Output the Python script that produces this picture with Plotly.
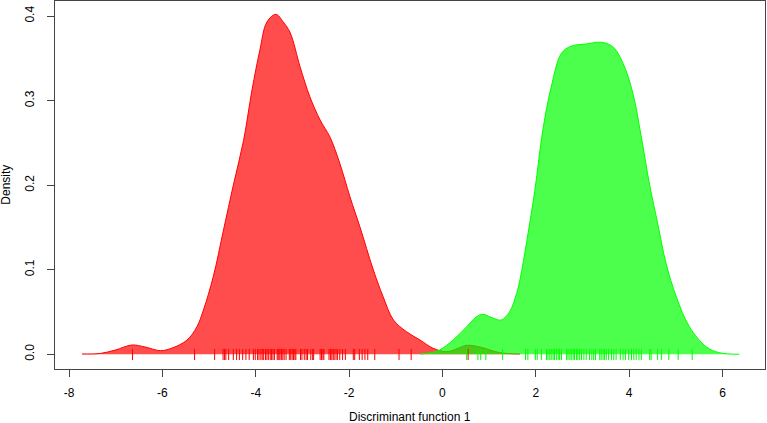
import plotly.graph_objects as go

# Density curve of group 1 (red)
red_x = [-7.72, -7.33, -7.01, -6.65, -6.37, -6.04, -5.79, -5.47, -5.26, -5.12, -4.91, -4.69,
         -4.48, -4.26, -4.08, -3.91, -3.76, -3.57, -3.41, -3.26, -3.05, -2.84, -2.62, -2.41,
         -2.20, -1.98, -1.77, -1.48, -1.27, -1.05, -0.77, -0.48, -0.20, 0.09, 0.33, 0.52,
         0.80, 1.23, 1.66]
red_y = [0.0004, 0.001, 0.005, 0.011, 0.0086, 0.0043, 0.0074, 0.0169, 0.0326, 0.0524, 0.0917, 0.147,
         0.200, 0.253, 0.3125, 0.360, 0.393, 0.402, 0.393, 0.380, 0.340, 0.3046, 0.277, 0.257,
         0.226, 0.186, 0.151, 0.0997, 0.068, 0.0406, 0.0267, 0.0169, 0.0071, 0.0031, 0.0069, 0.0106,
         0.0086, 0.0019, 0.0004]

# Density curve of group 2 (green)
green_x = [-0.48, -0.27, -0.06, 0.23, 0.52, 0.73, 0.87, 1.09, 1.26, 1.44, 1.59, 1.66, 1.81,
           1.98, 2.15, 2.33, 2.55, 2.76, 3.08, 3.40, 3.65, 3.87, 4.08, 4.26, 4.44, 4.61,
           4.79, 5.01, 5.29, 5.65, 5.93, 6.36]
green_y = [0.0004, 0.0015, 0.005, 0.0169, 0.0326, 0.0445, 0.0473, 0.0426, 0.0406, 0.0504, 0.0721, 0.0878, 0.135,
           0.194, 0.265, 0.316, 0.356, 0.3645, 0.367, 0.369, 0.3637, 0.344, 0.3086, 0.257, 0.200, 0.155,
           0.1076, 0.068, 0.0326, 0.009, 0.0019, 0.0]

# Rug values (individual scores)
red_rug = [-6.64, -5.31, -4.88, -4.70, -4.67, -4.64, -4.58, -4.48, -4.41, -4.35, -4.28, -4.21,
           -4.14, -4.05, -4.01, -3.96, -3.93, -3.89, -3.86, -3.83, -3.79, -3.76, -3.73, -3.69,
           -3.66, -3.63, -3.60, -3.54, -3.52, -3.50, -3.48, -3.45, -3.42, -3.39, -3.35, -3.28,
           -3.25, -3.22, -3.19, -3.16, -3.14, -3.04, -3.01, -2.96, -2.92, -2.89, -2.82, -2.78,
           -2.76, -2.62, -2.59, -2.56, -2.54, -2.43, -2.40, -2.37, -2.34, -2.32, -2.28, -2.25,
           -2.20, -2.14, -2.08, -1.91, -1.88, -1.78, -1.72, -1.66, -1.60, -1.45, -0.93, -0.67, 0.55]
green_rug = [0.52, 0.76, 0.82, 0.93, 1.29, 1.78, 1.83, 1.99, 2.03, 2.12, 2.23, 2.26, 2.30, 2.33,
             2.37, 2.40, 2.44, 2.48, 2.51, 2.55, 2.66, 2.69, 2.73, 2.76, 2.80, 2.83, 2.87, 2.90,
             2.94, 2.98, 3.03, 3.08, 3.15, 3.20, 3.24, 3.28, 3.37, 3.40, 3.44, 3.47, 3.51, 3.56,
             3.62, 3.67, 3.72, 3.81, 3.87, 3.92, 3.99, 4.05, 4.10, 4.15, 4.21, 4.26, 4.44, 4.47,
             4.61, 4.69, 4.85, 5.05, 5.35]

x_ticks = [-8, -6, -4, -2, 0, 2, 4, 6]
x_tick_labels = ["-8", "-6", "-4", "-2", "0", "2", "4", "6"]
y_ticks = [0.0, 0.1, 0.2, 0.3, 0.4]
y_tick_labels = ["0.0", "0.1", "0.2", "0.3", "0.4"]

RUG_LO, RUG_HI = -0.0068, 0.0063


def rug_xy(vals):
    xs, ys = [], []
    for v in vals:
        xs += [v, v, None]
        ys += [RUG_LO, RUG_HI, None]
    return xs, ys


fig = go.Figure()
fig.add_trace(go.Scatter(x=red_x, y=red_y, mode="lines", line=dict(color="rgb(255,0,0)", width=1, shape="spline"),
                         fill="tozeroy", fillcolor="rgba(255,0,0,0.7)", hoverinfo="skip", showlegend=False))
fig.add_trace(go.Scatter(x=green_x, y=green_y, mode="lines", line=dict(color="rgb(0,255,0)", width=1, shape="spline"),
                         fill="tozeroy", fillcolor="rgba(0,255,0,0.7)", hoverinfo="skip", showlegend=False))
rx, ry = rug_xy(red_rug)
fig.add_trace(go.Scatter(x=rx, y=ry, mode="lines", line=dict(color="rgb(255,0,0)", width=1),
                         hoverinfo="skip", showlegend=False))
gx, gy = rug_xy(green_rug)
fig.add_trace(go.Scatter(x=gx, y=gy, mode="lines", line=dict(color="rgb(0,255,0)", width=1),
                         hoverinfo="skip", showlegend=False))

font = dict(family="Liberation Sans, Arial, sans-serif", size=12, color="black")

fig.update_layout(
    width=767, height=423,
    margin=dict(l=55, r=2, t=1, b=54),
    paper_bgcolor="white", plot_bgcolor="white",
    font=font,
    xaxis=dict(range=[-8.30, 6.91], tickvals=x_ticks, ticktext=x_tick_labels, ticks="outside", ticklen=7,
               tickcolor="#444", showline=True, linecolor="#444", linewidth=1, mirror=True, showgrid=False,
               zeroline=False, ticklabelstandoff=6, tickfont=font, automargin=False),
    yaxis=dict(range=[-0.0174, 0.4178], tickvals=y_ticks, ticktext=y_tick_labels, ticks="outside", ticklen=7,
               tickcolor="#444", showline=True, linecolor="#444", linewidth=1, mirror=True, showgrid=False,
               zeroline=False, tickangle=-90, ticklabelstandoff=8, tickfont=font, automargin=False),
    annotations=[
        dict(text="Discriminant function 1", xref="paper", yref="paper", x=0.5, y=-0.1304,
             xanchor="center", yanchor="middle", showarrow=False, font=font),
        dict(text="Density", xref="paper", yref="paper", x=-0.0695, y=0.5, textangle=-90,
             xanchor="center", yanchor="middle", showarrow=False, font=font),
    ],
)

fig.write_html("out.html", config={"displayModeBar": False},
               post_script="document.body.style.margin='0px';document.body.style.padding='0px';")
